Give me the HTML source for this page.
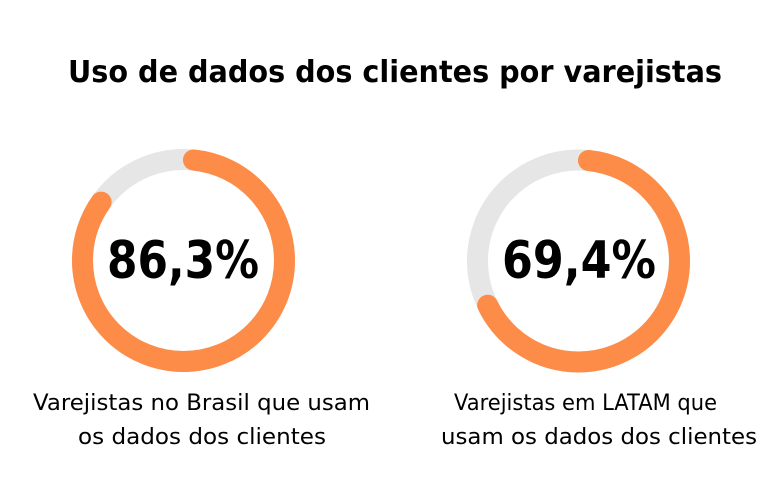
<!DOCTYPE html>
<html><head><meta charset="utf-8"><style>
html,body{margin:0;padding:0;background:#fff;}
svg{display:block;}
text{font-family:"DejaVu Sans","Liberation Sans",sans-serif;fill:#000;}
</style></head><body>
<svg width="776" height="490" viewBox="0 0 776 490" xmlns="http://www.w3.org/2000/svg">
<rect width="776" height="490" fill="#fff"/>
<text x="395" y="82" font-size="30" font-weight="bold" text-anchor="middle" textLength="654" lengthAdjust="spacingAndGlyphs">Uso de dados dos clientes por varejistas</text>

<circle cx="183.5" cy="260.5" r="101" fill="none" stroke="#e6e6e6" stroke-width="21"/>
<circle cx="183.5" cy="260.5" r="101" fill="none" stroke="#fc8c47" stroke-width="21" stroke-linecap="round"
 stroke-dasharray="528 1000" stroke-dashoffset="-10" transform="rotate(-90 183.5 260.5)"/>
<text x="183" y="278" font-size="52" font-weight="bold" text-anchor="middle" textLength="152" lengthAdjust="spacingAndGlyphs">86,3%</text>

<circle cx="578.5" cy="261" r="101" fill="none" stroke="#e6e6e6" stroke-width="21"/>
<circle cx="578.5" cy="261" r="101" fill="none" stroke="#fc8c47" stroke-width="21" stroke-linecap="round"
 stroke-dasharray="420 1000" stroke-dashoffset="-10" transform="rotate(-90 578.5 261)"/>
<text x="579" y="278" font-size="52" font-weight="bold" text-anchor="middle" textLength="154" lengthAdjust="spacingAndGlyphs">69,4%</text>

<text x="201.5" y="410" font-size="22" text-anchor="middle" textLength="337" lengthAdjust="spacingAndGlyphs">Varejistas no Brasil que usam</text>
<text x="202" y="444" font-size="22" text-anchor="middle" textLength="248" lengthAdjust="spacingAndGlyphs">os dados dos clientes</text>
<text x="585.5" y="410" font-size="22" text-anchor="middle" textLength="263" lengthAdjust="spacingAndGlyphs">Varejistas em LATAM que</text>
<text x="599" y="444" font-size="22" text-anchor="middle" textLength="316" lengthAdjust="spacingAndGlyphs">usam os dados dos clientes</text>
</svg>
</body></html>
